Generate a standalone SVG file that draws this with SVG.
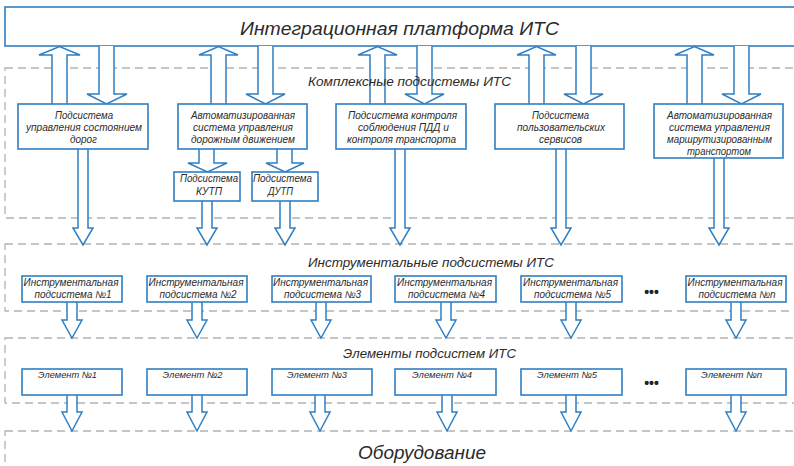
<svg xmlns="http://www.w3.org/2000/svg" width="794" height="466" viewBox="0 0 794 466">
<style>
.reg{fill:none;stroke:#b3b3b3;stroke-width:1.3;stroke-dasharray:8 5}
.box{fill:#fff;stroke:#2f7fc3;stroke-width:1.6}
.arr{fill:#fff;stroke:#2f7fc3;stroke-width:1.5;stroke-linejoin:miter}
.t{font-family:"Liberation Sans",Arial,sans-serif;font-style:italic;fill:#2b2b2b;text-anchor:middle}
.s{font-size:10px}
.e{font-size:9px}
.h{font-size:13px}
.b{font-size:19px}
.dots{font-family:"Liberation Sans",Arial,sans-serif;font-size:14px;font-weight:bold;fill:#222;text-anchor:middle}
</style>
<rect width="794" height="466" fill="#fff"/>
<g id="regions">
<rect class="reg" x="5" y="68" width="820" height="150"/>
<rect class="reg" x="5" y="244" width="820" height="67"/>
<rect class="reg" x="5" y="338" width="820" height="65"/>
<rect class="reg" x="5" y="431" width="820" height="60"/>
</g>
<g id="platform">
<rect class="box" x="5" y="7" width="820" height="39"/>
<text class="t b" x="399.5" y="35" textLength="319" lengthAdjust="spacingAndGlyphs">Интеграционная платформа ИТС</text>
</g>
<g id="connectors">
<path class="arr" d="M52,104 V55 H39 L59.5,46.5 L80,55 H67 V104"/>
<path class="arr" d="M99,46 V94 H87 L106.5,104 L127,94 H114 V46"/>
<path class="arr" d="M211,104 V55 H199 L218.5,46.5 L238,55 H226 V104"/>
<path class="arr" d="M258,46 V94 H246 L265.5,104 L285,94 H273 V46"/>
<path class="arr" d="M370,104 V55 H358 L377.5,46.5 L397,55 H385 V104"/>
<path class="arr" d="M417,46 V94 H405 L424.5,104 L444,94 H432 V46"/>
<path class="arr" d="M529,104 V55 H517 L536.5,46.5 L556,55 H544 V104"/>
<path class="arr" d="M576,46 V94 H564 L583.5,104 L603,94 H591 V46"/>
<path class="arr" d="M687,104 V55 H675 L694.5,46.5 L714,55 H702 V104"/>
<path class="arr" d="M734,46 V94 H722 L741.5,104 L761,94 H749 V46"/>
<path class="arr" d="M199,149 V163 H188 L207.5,172 L227,163 H214 V149"/>
<path class="arr" d="M277,149 V163 H266 L285,172 L304,163 H292 V149"/>
<path class="arr" d="M78,149 V228 H73 L83,245 L93,228 H88 V149"/>
<path class="arr" d="M202,201 V228 H197 L207,245 L217,228 H212 V201"/>
<path class="arr" d="M280,201 V228 H275 L285,245 L295,228 H290 V201"/>
<path class="arr" d="M395,149 V228 H390 L400,245 L410,228 H405 V149"/>
<path class="arr" d="M556,149 V228 H551 L561,245 L571,228 H566 V149"/>
<path class="arr" d="M714,158 V228 H709 L719,245 L729,228 H724 V158"/>
<path class="arr" d="M67,302 V320 H62 L72,338 L82,320 H77 V302"/>
<path class="arr" d="M192,302 V320 H187 L197,338 L207,320 H202 V302"/>
<path class="arr" d="M316,302 V320 H311 L321,338 L331,320 H326 V302"/>
<path class="arr" d="M441,302 V320 H436 L446,338 L456,320 H451 V302"/>
<path class="arr" d="M566,302 V320 H561 L571,338 L581,320 H576 V302"/>
<path class="arr" d="M731,302 V320 H726 L736,338 L746,320 H741 V302"/>
<path class="arr" d="M67,395 V412 H62 L72,431 L82,412 H77 V395"/>
<path class="arr" d="M192,395 V412 H187 L197,431 L207,412 H202 V395"/>
<path class="arr" d="M315,395 V412 H310 L320,431 L330,412 H325 V395"/>
<path class="arr" d="M442,395 V412 H437 L447,431 L457,412 H452 V395"/>
<path class="arr" d="M566,395 V412 H561 L571,431 L581,412 H576 V395"/>
<path class="arr" d="M731,395 V412 H726 L736,431 L746,412 H741 V395"/>
</g>
<g id="region-labels">
<text class="t h" x="409.5" y="86" textLength="203" lengthAdjust="spacingAndGlyphs">Комплексные подсистемы ИТС</text>
<text class="t h" x="431" y="267" textLength="246" lengthAdjust="spacingAndGlyphs">Инструментальные подсистемы ИТС</text>
<text class="t h" x="429.5" y="358" textLength="173" lengthAdjust="spacingAndGlyphs">Элементы подсистем ИТС</text>
<text class="t b" x="422" y="459" font-size="20" textLength="128" lengthAdjust="spacingAndGlyphs">Оборудование</text>
</g>
<g id="sub-roads">
<rect class="box" x="18" y="104" width="130" height="45"/>
<text class="t s" x="84" y="119" textLength="58" lengthAdjust="spacingAndGlyphs">Подсистема</text>
<text class="t s" x="84" y="131" textLength="116" lengthAdjust="spacingAndGlyphs">управления состоянием</text>
<text class="t s" x="83.5" y="143" textLength="27" lengthAdjust="spacingAndGlyphs">дорог</text>
</g>
<g id="asudd">
<rect class="box" x="178" y="104" width="129" height="45"/>
<text class="t s" x="243" y="119" textLength="104" lengthAdjust="spacingAndGlyphs">Автоматизированная</text>
<text class="t s" x="243" y="131" textLength="100" lengthAdjust="spacingAndGlyphs">система управления</text>
<text class="t s" x="243" y="143" textLength="104" lengthAdjust="spacingAndGlyphs">дорожным движением</text>
</g>
<g id="sub-pdd">
<rect class="box" x="336" y="104" width="130" height="45"/>
<text class="t s" x="402.5" y="119" textLength="109" lengthAdjust="spacingAndGlyphs">Подсистема контроля</text>
<text class="t s" x="403.5" y="131" textLength="91" lengthAdjust="spacingAndGlyphs">соблюдения ПДД и</text>
<text class="t s" x="401.5" y="143" textLength="109" lengthAdjust="spacingAndGlyphs">контроля транспорта</text>
</g>
<g id="sub-users">
<rect class="box" x="495" y="104" width="129" height="45"/>
<text class="t s" x="560.5" y="119" textLength="57" lengthAdjust="spacingAndGlyphs">Подсистема</text>
<text class="t s" x="561" y="131" textLength="88" lengthAdjust="spacingAndGlyphs">пользовательских</text>
<text class="t s" x="560.5" y="143" textLength="43" lengthAdjust="spacingAndGlyphs">сервисов</text>
</g>
<g id="asu-route">
<rect class="box" x="654" y="104" width="129" height="54"/>
<text class="t s" x="719.5" y="119" textLength="105" lengthAdjust="spacingAndGlyphs">Автоматизированная</text>
<text class="t s" x="719.5" y="131" textLength="101" lengthAdjust="spacingAndGlyphs">система управления</text>
<text class="t s" x="719.5" y="143" textLength="105" lengthAdjust="spacingAndGlyphs">маршрутизированным</text>
<text class="t s" x="719" y="155" textLength="64" lengthAdjust="spacingAndGlyphs">транспортом</text>
</g>
<g id="kutp">
<rect class="box" x="174" y="172" width="66" height="29"/>
<text class="t s" x="209" y="182" textLength="58" lengthAdjust="spacingAndGlyphs">Подсистема</text>
<text class="t s" x="209" y="195" textLength="26" lengthAdjust="spacingAndGlyphs">КУТП</text>
</g>
<g id="dutp">
<rect class="box" x="252" y="172" width="66" height="29"/>
<text class="t s" x="282.5" y="182" textLength="59" lengthAdjust="spacingAndGlyphs">Подсистема</text>
<text class="t s" x="280.5" y="195" textLength="25" lengthAdjust="spacingAndGlyphs">ДУТП</text>
</g>
<g id="instr-1">
<rect class="box" x="22" y="276" width="100" height="26"/>
<text class="t s" x="71" y="286" textLength="95" lengthAdjust="spacingAndGlyphs">Инструментальная</text>
<text class="t s" x="73" y="298" textLength="77" lengthAdjust="spacingAndGlyphs">подсистема №1</text>
</g>
<g id="instr-2">
<rect class="box" x="147" y="276" width="100" height="26"/>
<text class="t s" x="196" y="286" textLength="95" lengthAdjust="spacingAndGlyphs">Инструментальная</text>
<text class="t s" x="198" y="298" textLength="77" lengthAdjust="spacingAndGlyphs">подсистема №2</text>
</g>
<g id="instr-3">
<rect class="box" x="272" y="276" width="99" height="26"/>
<text class="t s" x="320.5" y="286" textLength="95" lengthAdjust="spacingAndGlyphs">Инструментальная</text>
<text class="t s" x="322.5" y="298" textLength="77" lengthAdjust="spacingAndGlyphs">подсистема №3</text>
</g>
<g id="instr-4">
<rect class="box" x="395" y="276" width="101" height="26"/>
<text class="t s" x="444.5" y="286" textLength="95" lengthAdjust="spacingAndGlyphs">Инструментальная</text>
<text class="t s" x="446.5" y="298" textLength="77" lengthAdjust="spacingAndGlyphs">подсистема №4</text>
</g>
<g id="instr-5">
<rect class="box" x="521" y="276" width="101" height="26"/>
<text class="t s" x="570.5" y="286" textLength="95" lengthAdjust="spacingAndGlyphs">Инструментальная</text>
<text class="t s" x="572.5" y="298" textLength="77" lengthAdjust="spacingAndGlyphs">подсистема №5</text>
</g>
<text class="dots" x="651.5" y="297">•••</text>
<g id="instr-n">
<rect class="box" x="686" y="276" width="100" height="26"/>
<text class="t s" x="735" y="286" textLength="95" lengthAdjust="spacingAndGlyphs">Инструментальная</text>
<text class="t s" x="737" y="298" textLength="77" lengthAdjust="spacingAndGlyphs">подсистема №n</text>
</g>
<g id="elem-1">
<rect class="box" x="22" y="369" width="100" height="26"/>
<text class="t e" x="67.5" y="378" textLength="59" lengthAdjust="spacingAndGlyphs">Элемент №1</text>
</g>
<g id="elem-2">
<rect class="box" x="147" y="369" width="100" height="26"/>
<text class="t e" x="192.5" y="378" textLength="60" lengthAdjust="spacingAndGlyphs">Элемент №2</text>
</g>
<g id="elem-3">
<rect class="box" x="272" y="369" width="100" height="26"/>
<text class="t e" x="317" y="378" textLength="60" lengthAdjust="spacingAndGlyphs">Элемент №3</text>
</g>
<g id="elem-4">
<rect class="box" x="395" y="369" width="101" height="26"/>
<text class="t e" x="442" y="378" textLength="60" lengthAdjust="spacingAndGlyphs">Элемент №4</text>
</g>
<g id="elem-5">
<rect class="box" x="521" y="369" width="101" height="26"/>
<text class="t e" x="567" y="378" textLength="60" lengthAdjust="spacingAndGlyphs">Элемент №5</text>
</g>
<text class="dots" x="651.5" y="388">•••</text>
<g id="elem-n">
<rect class="box" x="686" y="369" width="100" height="26"/>
<text class="t e" x="731.5" y="378" textLength="61" lengthAdjust="spacingAndGlyphs">Элемент №n</text>
</g>
</svg>
